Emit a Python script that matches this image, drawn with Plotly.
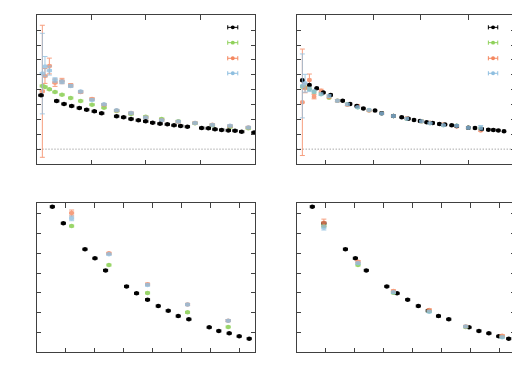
import plotly.graph_objects as go

# ---------------- data (arbitrary units) ----------------
# top-left panel
tl_black_x = [0.082, 0.369, 0.503, 0.643, 0.783, 0.917, 1.057, 1.191, 1.465, 1.593, 1.728, 1.862, 1.996,
              2.124, 2.258, 2.392, 2.514, 2.636, 2.758, 3.020, 3.141, 3.263, 3.385, 3.507, 3.629, 3.751, 3.977]
tl_black_y = [3.62, 3.24, 3.04, 2.90, 2.77, 2.65, 2.54, 2.41, 2.21, 2.14, 2.03, 1.94, 1.87,
              1.78, 1.71, 1.67, 1.60, 1.56, 1.51, 1.42, 1.40, 1.33, 1.29, 1.26, 1.24, 1.17, 1.11]
tl_col_x = [0.107, 0.155, 0.235, 0.338, 0.466, 0.625, 0.807, 1.015, 1.234, 1.465, 1.728, 1.996,
            2.288, 2.593, 2.898, 3.215, 3.538, 3.873]
tl_green_y = [4.25, 4.18, 4.02, 3.84, 3.66, 3.44, 3.24, 2.99, 2.79, 2.57, 2.36, 2.18,
              2.03, 1.87, 1.74, 1.60, 1.49, 1.40]
tl_orange_y = [3.89, 4.92, 5.59, 4.47, 4.58, 4.29, 3.84, 3.37, 2.99, 2.59, 2.43, 2.12,
               1.95, 1.84, 1.76, 1.64, 1.55, 1.46]
tl_orange_err = [4.44, 0.50, 0.53, 0.25, 0.18, 0.12, 0.08, 0.08, 0.06, 0.06, 0.06, 0.06,
                 0.05, 0.05, 0.05, 0.05, 0.08, 0.05]
tl_blue_y = [5.08, 5.55, 5.28, 4.65, 4.52, 4.25, 3.87, 3.31, 3.01, 2.61, 2.43, 2.12,
             1.94, 1.85, 1.75, 1.63, 1.57, 1.46]
tl_blue_err = [2.71, 0.68, 0.30, 0.15, 0.12, 0.10, 0.08, 0.07, 0.06, 0.06, 0.05, 0.05,
               0.05, 0.05, 0.05, 0.05, 0.06, 0.05]

# top-right panel
tr_black_x = [0.509, 0.657, 0.811, 0.951, 1.105, 1.357, 1.512, 1.652, 1.792, 2.037, 2.177, 2.423,
              2.598, 2.738, 2.857, 2.983, 3.123, 3.249, 3.390, 3.509, 3.649, 3.754, 3.999, 4.139,
              4.280, 4.420, 4.525, 4.630, 4.749, 4.979]
tr_black_y = [4.63, 4.31, 4.09, 3.80, 3.64, 3.26, 3.04, 2.90, 2.74, 2.59, 2.41, 2.23,
              2.14, 2.05, 1.96, 1.89, 1.80, 1.76, 1.69, 1.65, 1.60, 1.56, 1.44, 1.42,
              1.35, 1.31, 1.29, 1.26, 1.20, 1.13]
tr_col_x = [0.509, 0.566, 0.657, 0.755, 0.902, 1.070, 1.245, 1.455, 1.673, 1.911, 2.177, 2.423,
            2.703, 3.018, 3.193, 3.474, 3.754, 3.999, 4.259]
tr_green_y = [4.20, 4.16, 4.04, 3.84, 3.71, 3.46, 3.26, 3.01, 2.81, 2.61, 2.41, 2.23,
              2.05, 1.87, 1.76, 1.62, 1.58, 1.44, 1.38]
tr_orange_y = [3.15, 4.09, 4.65, 3.53, 3.93, 3.53, 3.26, 2.99, 2.90, 2.59, 2.41, 2.23,
               2.07, 1.87, 1.78, 1.65, 1.53, 1.44, 1.26]
tr_orange_err = [3.58, 0.30, 0.40, 0.15, 0.10, 0.10, 0.08, 0.07, 0.07, 0.06, 0.06, 0.05,
                 0.05, 0.05, 0.05, 0.05, 0.05, 0.05, 0.06]
tr_blue_y = [4.25, 4.43, 4.02, 3.87, 3.69, 3.57, 3.26, 3.01, 2.81, 2.63, 2.39, 2.23,
             2.05, 1.87, 1.74, 1.60, 1.58, 1.44, 1.44]
tr_blue_err = [2.15, 0.60, 0.15, 0.10, 0.08, 0.08, 0.07, 0.06, 0.06, 0.05, 0.05, 0.05,
               0.05, 0.05, 0.05, 0.05, 0.05, 0.05, 0.15]

# bottom-left panel
bl_black_x = [0.544, 0.923, 1.668, 2.012, 2.378, 3.100, 3.444, 3.822, 4.189, 4.533, 4.877,
              5.244, 5.943, 6.275, 6.631, 6.975, 7.319]
bl_black_y = [7.36, 6.52, 5.21, 4.75, 4.14, 3.33, 2.98, 2.66, 2.34, 2.10, 1.83,
              1.67, 1.26, 1.08, 0.96, 0.81, 0.69]
bl_col_x = [1.209, 2.493, 3.822, 5.198, 6.596]
bl_green_y = [6.38, 4.41, 3.00, 2.02, 1.28]
bl_orange_y = [7.04, 5.00, 3.44, 2.42, 1.60]
bl_blue_y = [6.77, 4.95, 3.40, 2.41, 1.60]
bl_orange_err = [0.15, 0.05, 0.05, 0.05, 0.05]
bl_blue_err = [0.12, 0.05, 0.05, 0.05, 0.05]

# bottom-right panel
br_black_x = [0.537, 0.937, 1.680, 2.023, 2.400, 3.109, 3.463, 3.829, 4.194, 4.537, 4.891,
              5.246, 5.943, 6.286, 6.629, 6.971, 7.314]
br_black_y = [7.36, 6.52, 5.21, 4.75, 4.14, 3.33, 2.98, 2.66, 2.34, 2.10, 1.83,
              1.67, 1.26, 1.08, 0.96, 0.81, 0.69]
br_col_x = [0.937, 2.114, 3.337, 4.571, 5.829, 7.086]
br_green_y = [6.38, 4.41, 3.01, 2.07, 1.28, 0.79]
br_orange_y = [6.55, 4.58, 3.10, 2.14, 1.31, 0.84]
br_blue_y = [6.30, 4.50, 3.03, 2.05, 1.30, 0.76]
br_orange_err = [0.18, 0.06, 0.05, 0.05, 0.05, 0.05]
br_blue_err = [0.12, 0.06, 0.05, 0.05, 0.05, 0.05]

# ---------------- styling ----------------
BLACK = "#000000"
GREEN = "#8fd15a"
ORANGE = "#f4875f"
BLUE = "#8fbfe0"
FRAME = "#404040"

# the page body has an 8px margin; size the figure so it fits the window
OFF = 8
W, H = 520 - OFF, 391 - OFF
def fx(px):
    return (px - OFF) / W
def fy(py):
    return 1 - (py - OFF) / H

dom = {
    "tl": ([fx(36.5), fx(255.3)], [fy(164.0), fy(15.3)]),
    "tr": ([fx(296.7), fx(515.0)], [fy(164.0), fy(15.3)]),
    "bl": ([fx(36.5), fx(255.3)], [fy(352.3), fy(203.3)]),
    "br": ([fx(296.7), fx(515.0)], [fy(352.3), fy(203.3)]),
}
ax_ids = {"tl": ("x", "y"), "tr": ("x2", "y2"), "bl": ("x3", "y3"), "br": ("x4", "y4")}
ranges = {
    "tl": ([0, 4], [-1, 9], [1, 2, 3], list(range(0, 9))),
    "tr": ([0.39, 4.98], [-1, 9], [1, 2, 3, 4], list(range(0, 9))),
    "bl": ([0, 7.53], [0, 7.53], list(range(1, 8)), list(range(1, 8))),
    "br": ([0, 7.53], [0, 7.53], list(range(1, 8)), list(range(1, 8))),
}
xerr_size = {"tl": 0.04, "tr": 0.035, "bl": 0.07, "br": 0.07}

fig = go.Figure()

def add(panel, x, y, color, yerr=None, size=4.5, opacity=1.0):
    xa, ya = ax_ids[panel]
    ex = dict(type="constant", value=xerr_size[panel], color=color, thickness=1, width=1.5)
    ey = None
    if yerr is not None:
        ey = dict(type="data", array=yerr, color=color, thickness=1, width=2.5)
    fig.add_trace(go.Scatter(
        x=x, y=y, mode="markers", xaxis=xa, yaxis=ya, showlegend=False, opacity=opacity,
        marker=dict(color=color, size=size, line=dict(width=0)),
        error_x=ex, error_y=ey, hoverinfo="skip"))

# top-left
add("tl", tl_col_x, tl_green_y, GREEN, opacity=0.9)
add("tl", tl_col_x, tl_orange_y, ORANGE, tl_orange_err, opacity=0.8)
add("tl", tl_col_x, tl_blue_y, BLUE, tl_blue_err, opacity=0.8)
add("tl", tl_black_x, tl_black_y, BLACK)
# top-right
add("tr", tr_col_x, tr_green_y, GREEN, opacity=0.9)
add("tr", tr_col_x, tr_orange_y, ORANGE, tr_orange_err, opacity=0.8)
add("tr", tr_black_x, tr_black_y, BLACK)
add("tr", tr_col_x, tr_blue_y, BLUE, tr_blue_err, opacity=0.8)
# bottom-left
add("bl", bl_black_x, bl_black_y, BLACK)
add("bl", bl_col_x, bl_green_y, GREEN, opacity=0.9)
add("bl", bl_col_x, bl_orange_y, ORANGE, bl_orange_err, opacity=0.8)
add("bl", bl_col_x, bl_blue_y, BLUE, bl_blue_err, opacity=0.8)
# bottom-right
add("br", br_black_x, br_black_y, BLACK)
add("br", br_col_x, br_green_y, GREEN, opacity=0.9)
add("br", br_col_x, br_orange_y, ORANGE, br_orange_err, opacity=0.8)
add("br", br_col_x, br_blue_y, BLUE, br_blue_err, opacity=0.8)

layout = dict(width=W, height=H, margin=dict(l=0, r=0, t=0, b=0),
              paper_bgcolor="white", plot_bgcolor="white", showlegend=False)
for key, (xa, ya) in ax_ids.items():
    xr, yr, xt, yt = ranges[key]
    xname = "xaxis" + xa[1:]
    yname = "yaxis" + ya[1:]
    common = dict(showgrid=False, zeroline=False, showticklabels=False, ticks="inside",
                  ticklen=4.5, tickwidth=1, tickcolor=FRAME, showline=True, linecolor=FRAME,
                  linewidth=1, mirror="ticks", fixedrange=True)
    layout[xname] = dict(domain=dom[key][0], range=xr, tickvals=xt, anchor=ya, **common)
    layout[yname] = dict(domain=dom[key][1], range=yr, tickvals=yt, anchor=xa, **common)
fig.update_layout(**layout)

# dotted zero lines in the top panels
for key in ("tl", "tr"):
    xa, ya = ax_ids[key]
    fig.add_shape(type="line", xref=xa + " domain", yref=ya, x0=0, x1=1, y0=0, y1=0,
                  line=dict(color="#808080", width=1, dash="1px,2px"), layer="below")

# key samples (no text) in the top panels
legend_colors = [BLACK, GREEN, ORANGE, BLUE]
legend_rows = [0.919, 0.816, 0.711, 0.610]
for key, (lx0, lx1) in (("tl", (0.874, 0.920)), ("tr", (0.878, 0.921))):
    xa, ya = ax_ids[key]
    xr = xa + " domain"
    yr = ya + " domain"
    for c, yy in zip(legend_colors, legend_rows):
        fig.add_shape(type="line", xref=xr, yref=yr, x0=lx0, x1=lx1, y0=yy, y1=yy,
                      line=dict(color=c, width=1))
        for xx in (lx0, lx1):
            fig.add_shape(type="line", xref=xr, yref=yr, x0=xx, x1=xx, y0=yy - 0.014, y1=yy + 0.014,
                          line=dict(color=c, width=1))
        xm = (lx0 + lx1) / 2
        fig.add_shape(type="circle", xref=xr, yref=yr, x0=xm - 0.009, x1=xm + 0.009,
                      y0=yy - 0.013, y1=yy + 0.013, fillcolor=c, line=dict(color=c, width=0))

fig.write_html("out.html")
